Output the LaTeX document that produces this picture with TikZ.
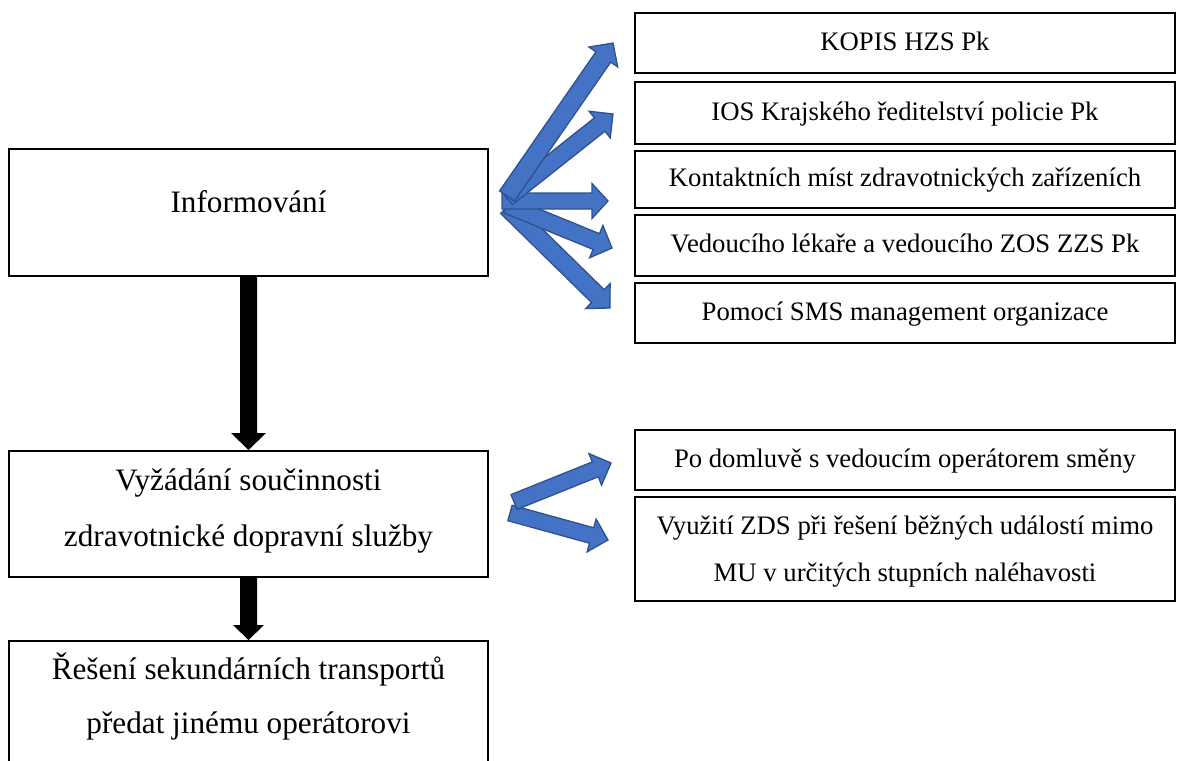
\documentclass[tikz,border=0pt]{standalone}
\usepackage{fontspec}
\setmainfont{Liberation Serif}
\usetikzlibrary{calc}
\definecolor{arrfill}{HTML}{4472C4}
\definecolor{arredge}{HTML}{2F528F}
% #1 style, #2 name, #3 from, #4 to, #5 half shaft, #6 half head, #7 head length
\newcommand{\blockarr}[7]{%
  \coordinate (#2-h) at ($(#4)!#7!(#3)$);
  \path[#1] ($(#3)!#5!90:(#4)$) -- ($(#2-h)!#5!90:(#4)$) -- ($(#2-h)!#6!90:(#4)$)
    -- (#4) -- ($(#2-h)!#6!-90:(#4)$) -- ($(#2-h)!#5!-90:(#4)$) -- ($(#3)!#5!-90:(#4)$) -- cycle;
}
\begin{document}
\begin{tikzpicture}[x=1pt,y=-1pt,
  lbox/.style={draw, line width=2pt, minimum width=479pt, align=center, inner sep=0pt,
    font=\fontsize{31.2}{56}\selectfont},
  rbox/.style={draw, line width=2pt, minimum width=540pt, align=center, inner sep=0pt,
    font=\fontsize{26.7}{47}\selectfont},
  rsingle/.style={rbox, text height=20pt, text depth=5pt},
  bluearr/.style={fill=arrfill, draw=arredge, line width=1.3pt, line join=miter},
  blackarr/.style={fill=black}]
\useasboundingbox (0,0) rectangle (1177,760);

% left column
\node[lbox, minimum height=127pt, text height=11pt, text depth=11pt] (n1) at (248.5,212.5) {Informování};
\node[lbox, minimum height=126pt] (n2) at (248.5,514)
  {\rule{0pt}{30pt}Vyžádání součinnosti\\zdravotnické dopravní služby\rule[-22pt]{0pt}{22pt}};
\node[lbox, minimum height=150pt, anchor=north,
  label={[font=\fontsize{31.2}{54}\selectfont, align=center, inner sep=0pt, anchor=north, yshift=-9pt]north:{\rule{0pt}{30pt}Řešení sekundárních transportů\\předat jinému operátorovi}}]
  (n3) at (248.5,640) {};

% right column
\node[rsingle, minimum height=60pt] (r1) at (905,42.7) {KOPIS HZS Pk};
\node[rsingle, minimum height=62pt] (r2) at (905,112.8) {IOS Krajského ředitelství policie Pk};
\node[rsingle, minimum height=57pt] (r3) at (905,179) {Kontaktních míst zdravotnických zařízeních};
\node[rsingle, minimum height=60.7pt] (r4) at (905,245.3) {Vedoucího lékaře a vedoucího ZOS ZZS Pk};
\node[rsingle, minimum height=60pt] (r5) at (905,313) {Pomocí SMS management organizace};
\node[rsingle, minimum height=60pt] (r6) at (905,460) {Po domluvě s vedoucím operátorem směny};
\node[rbox, minimum height=104pt] (r7) at (905,549)
  {\rule{0pt}{25pt}Využití ZDS při řešení běžných událostí mimo\\MU v určitých stupních naléhavosti\rule[-8pt]{0pt}{8pt}};

% black arrows
\blockarr{blackarr}{k1}{n1.south}{n2.north}{8.5pt}{17.5pt}{17pt}
\blockarr{blackarr}{k2}{n2.south}{n3.north}{8.5pt}{15.5pt}{15pt}

% blue fan
\coordinate (o1) at (507,196); \coordinate (t1) at (613,43);
\coordinate (o2) at (507,198); \coordinate (t2) at (613,114);
\coordinate (o3) at (502,201); \coordinate (t3) at (608,201);
\coordinate (o4) at (507,205); \coordinate (t4) at (612,248);
\coordinate (o5) at (507,207); \coordinate (t5) at (610,308);
\blockarr{bluearr}{a5}{o5}{t5}{9pt}{17.5pt}{17pt}
\blockarr{bluearr}{a4}{o4}{t4}{8.5pt}{17.5pt}{17pt}
\blockarr{bluearr}{a3}{o3}{t3}{8pt}{17.5pt}{16pt}
\blockarr{bluearr}{a2}{o2}{t2}{8.5pt}{17pt}{17pt}
\blockarr{bluearr}{a1}{o1}{t1}{9pt}{17.5pt}{17pt}

% blue V
\coordinate (o6) at (514,502); \coordinate (t6) at (611,463);
\coordinate (o7) at (510,513); \coordinate (t7) at (608,540);
\blockarr{bluearr}{a7}{o7}{t7}{8pt}{17pt}{17pt}
\blockarr{bluearr}{a6}{o6}{t6}{8pt}{17pt}{17pt}
\end{tikzpicture}
\end{document}
